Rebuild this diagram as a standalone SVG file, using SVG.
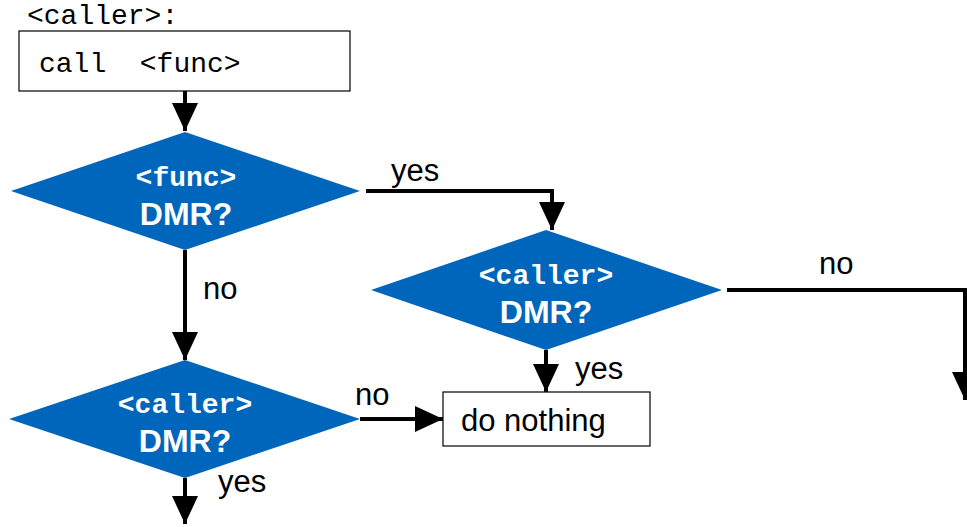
<svg xmlns="http://www.w3.org/2000/svg" width="967" height="527" viewBox="0 0 967 527">
<style>
.box{fill:#fff;stroke:#000;stroke-width:1.2}
.dia{fill:#0066BB;stroke:none}
.mono{font-family:"Liberation Mono",monospace;font-size:28px;fill:#000}
.wmono{font-family:"Liberation Mono",monospace;font-size:28px;font-weight:bold;fill:#fff;text-anchor:middle}
.wsans{font-family:"Liberation Sans",Arial,sans-serif;font-size:32px;font-weight:bold;fill:#fff;text-anchor:middle}
.lbl{font-family:"Liberation Sans",Arial,sans-serif;font-size:31px;fill:#000}
.conn{fill:none;stroke:#000;stroke-width:4}
</style>
<defs>
<marker id="ah" markerUnits="userSpaceOnUse" markerWidth="30" markerHeight="28" refX="28" refY="13" orient="auto">
<path d="M0,0 L28,13 L0,26 z" fill="#000"/>
</marker>
</defs>
<text class="mono" x="27" y="24">&lt;caller&gt;:</text>
<g id="call">
<rect class="box" x="19" y="31" width="331" height="60"/>
<text class="mono" x="39" y="72" xml:space="preserve">call  &lt;func&gt;</text>
</g>
<g id="d1">
<polygon class="dia" points="185,132 360,191 185,250 11,191"/>
<text class="wmono" x="186" y="186">&lt;func&gt;</text>
<text class="wsans" x="186" y="225">DMR?</text>
</g>
<g id="d2">
<polygon class="dia" points="546,230 722,290 546,350 371,290"/>
<text class="wmono" x="546" y="284">&lt;caller&gt;</text>
<text class="wsans" x="546" y="323">DMR?</text>
</g>
<g id="d3">
<polygon class="dia" points="185,360 360,419 185,478 9,419"/>
<text class="wmono" x="185" y="413">&lt;caller&gt;</text>
<text class="wsans" x="185" y="452">DMR?</text>
</g>
<g id="nothing">
<rect class="box" x="443" y="392" width="207" height="54"/>
<text class="lbl" x="461" y="431">do nothing</text>
</g>
<g id="connectors">
<path class="conn" d="M185,91 V131" marker-end="url(#ah)"/>
<path class="conn" d="M366,191 H552 V230" marker-end="url(#ah)"/>
<path class="conn" d="M185,250 V360" marker-end="url(#ah)"/>
<path class="conn" d="M727,290 H965 V400" marker-end="url(#ah)"/>
<path class="conn" d="M546,350 V392" marker-end="url(#ah)"/>
<path class="conn" d="M360,419 H443" marker-end="url(#ah)"/>
<path class="conn" d="M185,478 V524" marker-end="url(#ah)"/>
<text class="lbl" x="391" y="181">yes</text>
<text class="lbl" x="203" y="299">no</text>
<text class="lbl" x="819" y="274">no</text>
<text class="lbl" x="575" y="379">yes</text>
<text class="lbl" x="355" y="405">no</text>
<text class="lbl" x="218" y="492">yes</text>
</g>
</svg>
